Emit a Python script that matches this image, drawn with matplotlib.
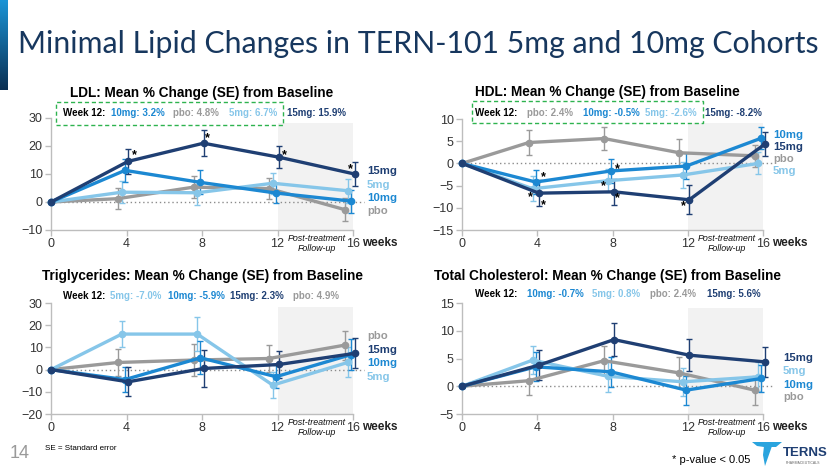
import matplotlib
matplotlib.use("Agg")
import matplotlib.pyplot as plt
import numpy as np
from matplotlib.patches import Rectangle, Polygon
from matplotlib.colors import LinearSegmentedColormap

plt.rcParams['font.family'] = ['Liberation Sans', 'DejaVu Sans']

W, H = 840, 473
fig = plt.figure(figsize=(8.4, 4.73), dpi=100)
fig.patch.set_facecolor('white')

def fx(x):
    return x / W

def fy(y):
    return 1 - y / H

# ---------------- data ----------------
weeks = [0, 4, 8, 12, 16]
series_names = ['pbo', '5mg', '10mg', '15mg']
x_offsets = {'pbo': -0.45, '5mg': -0.25, '10mg': -0.08, '15mg': 0.08}
colors = {'15mg': '#1f3f73', '10mg': '#1c88d2', '5mg': '#86c6e9', 'pbo': '#9a9a9a'}

ldl_vals = {'15mg': [0, 14.5, 21.0, 16.0, 10.0],
            '10mg': [0, 11.3, 7.0, 3.2, 0.3],
            '5mg': [0, 3.5, 3.3, 6.7, 4.0],
            'pbo': [0, 1.2, 5.3, 4.8, -2.7]}
ldl_se = {'15mg': [0, 4.5, 4.6, 4.0, 4.3],
          '10mg': [0, 4.0, 4.3, 3.6, 4.1],
          '5mg': [0, 4.0, 4.3, 3.8, 4.3],
          'pbo': [0, 3.8, 4.0, 3.7, 4.1]}

hdl_vals = {'15mg': [0, -6.7, -6.4, -8.2, 4.3],
            '10mg': [0, -4.2, -1.7, -0.6, 5.7],
            '5mg': [0, -5.7, -3.9, -2.6, 0.0],
            'pbo': [0, 4.7, 5.6, 2.4, 1.7]}
hdl_se = {'15mg': [0, 3.0, 2.9, 3.3, 2.7],
          '10mg': [0, 2.8, 2.8, 3.0, 2.5],
          '5mg': [0, 2.8, 2.6, 3.0, 2.5],
          'pbo': [0, 2.8, 2.5, 3.0, 2.4]}

tg_vals = {'15mg': [0, -5.5, 0.5, 2.3, 7.3],
           '10mg': [0, -4.5, 5.3, -3.2, 6.8],
           '5mg': [0, 16.0, 16.0, -7.0, 3.3],
           'pbo': [0, 3.2, 4.3, 5.0, 11.0]}
tg_se = {'15mg': [0, 6.5, 8.3, 6.3, 6.8],
         '10mg': [0, 5.8, 7.5, 5.3, 6.8],
         '5mg': [0, 5.8, 7.6, 5.8, 6.8],
         'pbo': [0, 6.0, 7.3, 6.0, 6.5]}

tc_vals = {'15mg': [0, 3.8, 8.4, 5.6, 4.4],
           '10mg': [0, 3.5, 2.6, -0.7, 1.4],
           '5mg': [0, 4.7, 1.8, 0.8, 1.7],
           'pbo': [0, 1.0, 4.6, 2.4, -0.7]}
tc_se = {'15mg': [0, 2.7, 3.0, 2.9, 2.7],
         '10mg': [0, 2.6, 2.7, 2.6, 2.5],
         '5mg': [0, 2.5, 2.8, 2.5, 2.6],
         'pbo': [0, 2.5, 2.6, 2.8, 2.6]}

ldl_stars = [(4.4, 16.8), (8.3, 22.9), (12.35, 16.8), (15.85, 11.8)]
hdl_stars = [(4.3, -3.1), (3.65, -7.6), (4.3, -9.4), (8.25, -1.3),
             (7.5, -5.1), (8.25, -7.8), (11.75, -9.6)]

ldl_week12 = [('Week 12:', 'black', 63), ('10mg: 3.2%', '10mg', 111), ('pbo: 4.8%', 'pbo', 173),
              ('5mg: 6.7%', '5mg', 229), ('15mg: 15.9%', '15mg', 287)]
hdl_week12 = [('Week 12:', 'black', 475), ('pbo: 2.4%', 'pbo', 527), ('10mg: -0.5%', '10mg', 583),
              ('5mg: -2.6%', '5mg', 645), ('15mg: -8.2%', '15mg', 705)]
tg_week12 = [('Week 12:', 'black', 63), ('5mg: -7.0%', '5mg', 110), ('10mg: -5.9%', '10mg', 168),
             ('15mg: 2.3%', '15mg', 230), ('pbo: 4.9%', 'pbo', 293)]
tc_week12 = [('Week 12:', 'black', 475), ('10mg: -0.7%', '10mg', 527), ('5mg: 0.8%', '5mg', 592),
             ('pbo: 2.4%', 'pbo', 650), ('15mg: 5.6%', '15mg', 707)]

# ---------------- panels ----------------
panels = [
    dict(title='LDL: Mean % Change (SE) from Baseline', vals=ldl_vals, se=ldl_se,
         box=(51, 353, 118, 230), ylim=(-10, 30), yticks=[-10, 0, 10, 20, 30], shade_top=28.2,
         stars=ldl_stars, week12=ldl_week12, w12y=113, w12box=(56, 283, 102, 125),
         title_xy=(202, 93), lab_x=367, labels=[('15mg', 171), ('5mg', 185), ('10mg', 198), ('pbo', 211)]),
    dict(title='HDL: Mean % Change (SE) from Baseline', vals=hdl_vals, se=hdl_se,
         box=(462, 763, 119, 230), ylim=(-15, 10), yticks=[-15, -10, -5, 0, 5, 10], shade_top=9.1,
         stars=hdl_stars, week12=hdl_week12, w12y=113, w12box=(472, 703, 101, 123),
         title_xy=(607, 92), lab_x=773, labels=[('10mg', 135), ('15mg', 147), ('pbo', 159), ('5mg', 171)]),
    dict(title='Triglycerides: Mean % Change (SE) from Baseline', vals=tg_vals, se=tg_se,
         box=(51, 353, 303, 414), ylim=(-20, 30), yticks=[-20, -10, 0, 10, 20, 30], shade_top=28.2,
         stars=[], week12=tg_week12, w12y=296, w12box=None,
         title_xy=(202, 276), lab_x=367, labels=[('pbo', 336), ('15mg', 350), ('10mg', 363), ('5mg', 377)]),
    dict(title='Total Cholesterol: Mean % Change (SE) from Baseline', vals=tc_vals, se=tc_se,
         box=(462, 763, 303, 414), ylim=(-5, 15), yticks=[-5, 0, 5, 10, 15], shade_top=14.1,
         stars=[], week12=tc_week12, w12y=294, w12box=None,
         title_xy=(607, 276), lab_x=783, labels=[('15mg', 358), ('5mg', 371), ('10mg', 385), ('pbo', 397)]),
]

draw_order = ['pbo', '5mg', '10mg', '15mg']

for p in panels:
    l, r, t, b = p['box']
    ax = fig.add_axes([fx(l), fy(b), (r - l) / W, (b - t) / H])
    ax.set_xlim(0, 16)
    ax.set_ylim(*p['ylim'])
    ax.set_facecolor('none')
    for s in ['top', 'right']:
        ax.spines[s].set_visible(False)
    for s in ['left', 'bottom']:
        ax.spines[s].set_color('#bdbdbd')
        ax.spines[s].set_linewidth(1.0)
    ax.set_xticks(weeks)
    ax.set_yticks(p['yticks'])
    ax.tick_params(axis='both', colors='#bdbdbd', labelcolor='#333333', labelsize=9,
                   length=4, width=1, pad=2)
    # shaded follow-up region
    ax.fill_between([12, 16], p['ylim'][0], p['shade_top'], color='#f2f2f2', zorder=0, linewidth=0)
    # zero line
    ax.plot([0, 16.6], [0, 0], linestyle=(0, (1, 2)), color='#8c8c8c', lw=1.0, zorder=1, clip_on=False)
    for name in draw_order:
        xs = [w + (x_offsets[name] if w > 0 else 0) for w in weeks]
        ys = p['vals'][name]
        se = p['se'][name]
        ax.plot(xs, ys, color=colors[name], lw=2.4, marker='o', ms=4.5, zorder=3, clip_on=False)
        ax.errorbar(xs[1:], ys[1:], yerr=se[1:], fmt='none', ecolor=colors[name], elinewidth=1.0,
                    capsize=2.5, capthick=1.0, zorder=2, clip_on=False)
    for sx, sy in p['stars']:
        ax.text(sx, sy, '*', fontsize=9, fontweight='bold', ha='center', va='center', color='black', zorder=5)
    # weeks label
    fig.text(fx(r + 9), fy(b + 13), 'weeks', fontsize=8.5, fontweight='bold', ha='left', va='center', color='#222222')
    # post-treatment text
    cx = r - 36
    fig.text(fx(cx), fy(b + 8), 'Post-treatment', fontsize=6.4, style='italic', ha='center', va='center', color='#111111')
    fig.text(fx(cx), fy(b + 18), 'Follow-up', fontsize=6.4, style='italic', ha='center', va='center', color='#111111')
    # title
    fig.text(fx(p['title_xy'][0]), fy(p['title_xy'][1]), p['title'], fontsize=9.8, fontweight='bold',
             ha='center', va='center', color='black')
    # week 12 row
    for txt, c, x0 in p['week12']:
        col = 'black' if c == 'black' else colors[c]
        fig.text(fx(x0), fy(p['w12y']), txt, fontsize=7.0, fontweight='bold', ha='left', va='center', color=col)
    if p['w12box'] is not None:
        bl, br, bt, bb = p['w12box']
        fig.patches.append(Rectangle((fx(bl), fy(bb)), (br - bl) / W, (bb - bt) / H, transform=fig.transFigure,
                                     fill=False, edgecolor='#2eb34f', lw=1.0, linestyle=(0, (3, 2))))
    # series labels
    for name, ly in p['labels']:
        fig.text(fx(p['lab_x']), fy(ly), name, fontsize=8.2, fontweight='bold', ha='left', va='center',
                 color=colors[name])

# ---------------- slide decorations ----------------
grad = np.linspace(0, 1, 100).reshape(-1, 1)
bar_ax = fig.add_axes([0, fy(90), 8 / W, 90 / H])
cmap = LinearSegmentedColormap.from_list('bar', ['#1b94d6', '#0b2f52'])
bar_ax.imshow(grad, aspect='auto', cmap=cmap, extent=[0, 1, 0, 1], origin='upper')
bar_ax.axis('off')

title = fig.text(fx(18), fy(44), 'Minimal Lipid Changes in TERN-101 5mg and 10mg Cohorts',
                 fontsize=24, family=['Lato', 'DejaVu Sans'], color='#17375e', ha='left', va='center')
renderer = fig.canvas.get_renderer()
wpx = title.get_window_extent(renderer).width
title.set_fontsize(24 * 800 / wpx)

fig.text(fx(10), fy(453), '14', fontsize=13, color='#9a9a9a', ha='left', va='center')
fig.text(fx(45), fy(448), 'SE = Standard error', fontsize=5.8, color='black', ha='left', va='center')
fig.text(fx(672), fy(460), '* p-value < 0.05', fontsize=8, color='black', ha='left', va='center')

# logo
logo_pts1 = [(752, 442), (782, 442), (776, 447), (764, 447), (757, 446)]
logo_pts2 = [(764, 446), (772, 446), (765, 466), (763, 455)]
for pts in (logo_pts1, logo_pts2):
    fig.patches.append(Polygon([(fx(x), fy(y)) for x, y in pts], closed=True, transform=fig.transFigure,
                               facecolor='#2aa4de', edgecolor='none'))
fig.text(fx(783), fy(453), 'TERNS', fontsize=9.5, fontweight='bold', color='#1f3f73', ha='left', va='center')
fig.text(fx(803), fy(463), 'PHARMACEUTICALS', fontsize=2.5, color='#666666', ha='center', va='center')

fig.savefig('out.png', dpi=100, facecolor='white')
